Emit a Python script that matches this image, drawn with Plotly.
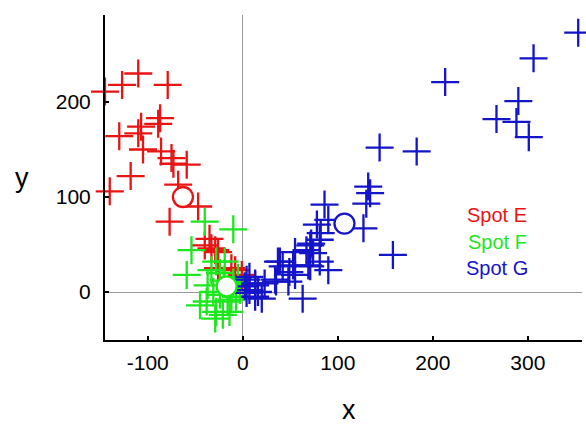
import plotly.graph_objects as go

# Spot E (red)
e_x = [-145, -127, -110, -79, -87, -89, -107, -110, -130, -105, -86, -75, -73, -59,
       -118, -68, -140, -47, -77, -35, -40, -33, -26, -26, -12, -29, -8, -1]
e_y = [211, 218, 230, 218, 183, 177, 174, 167, 164, 150, 148, 141, 135, 134,
       122, 113, 106, 90, 74, 56, 49, 46, 42, 25, 25, 44, 23, 18]

# Spot F (green)
f_x = [-40, -10, -54, -28, -19, -59, -33, -24, -37, -45, -38, -28, -21, -14,
       -29, -7, -3, -16, -24, -10, -5, -12, -20, -31]
f_y = [74, 66, 44, 32, 32, 18, 23, 20, 7, -14, -10, -21, -24, -21,
       -28, -5, 2, -10, -3, 10, 15, -8, 12, 0]

# Spot G (blue)
g_x = [4, 13, 7, 2, 16, 13, 4, 23, 55, 67, 72, 37, 42, 53, 49, 55, 35, 48, 63, 20,
       13, 7, 69, 86, 130, 134, 127, 78, 90, 82, 81, 71, 39, 74, 81, 90, 71, 34,
       132, 158, 213, 306, 353, 290, 267, 288, 301, 183, 144]
g_y = [13, 7, 2, 6, 0, -5, -1, 9, 42, 44, 51, 32, 27, 28, 21, 18, 11, 11, -7, -7,
       9, 16, 28, 92, 93, 104, 67, 71, 76, 62, 55, 49, 32, 41, 32, 23, 27, 13,
       111, 39, 221, 246, 273, 201, 182, 179, 163, 148, 152]

# Spot means (open circles)
mean_x = [-63, -17, 107]
mean_y = [100, 6, 72]

names = ["Spot E", "Spot F", "Spot G"]
colors = ["#e81414", "#1ee61e", "#1414c8"]

tick_x = [-100, 0, 100, 200, 300]
tick_x_text = ["-100", "0", "100", "200", "300"]
tick_y = [0, 100, 200]

W, H = 586, 424
L, R, T, B = 105, 4, 15, 84
pw, ph = W - L - R, H - T - B


def px(xp):
    return (xp - L) / pw


def py(yp):
    return 1 - (yp - T) / ph


def label(xp, yp, text, size, color):
    fig.add_annotation(x=px(xp), y=py(yp), xref="paper", yref="paper",
                       xanchor="center", yanchor="middle",
                       text=text, showarrow=False, font=dict(size=size, color=color))


fig = go.Figure()
for xs, ys, c in zip([e_x, f_x, g_x], [e_y, f_y, g_y], colors):
    fig.add_trace(go.Scatter(
        x=xs, y=ys, mode="markers", cliponaxis=False, showlegend=False,
        marker=dict(symbol="cross-thin-open", size=20, color=c,
                    line=dict(color=c, width=2.3)),
    ))

for mx, my, c in zip(mean_x, mean_y, colors):
    fig.add_trace(go.Scatter(
        x=[mx], y=[my], mode="markers", cliponaxis=False, showlegend=False,
        marker=dict(symbol="circle", size=20, color="white", line=dict(color=c, width=2.3)),
    ))

# Coloured text legend
for i, (n, c) in enumerate(zip(names, colors)):
    label(497, 215 + 26.5 * i, n, 20, c)

# Axis titles
label(349, 410, "x", 27, "black")
label(22, 178, "y", 27, "black")

axis_common = dict(
    showgrid=False, zeroline=True, zerolinecolor="#999999", zerolinewidth=1,
    showline=True, linecolor="black", linewidth=2,
    ticks="inside", ticklen=4, tickwidth=1.5, tickcolor="black",
)

fig.update_layout(
    width=W, height=H,
    margin=dict(l=L, r=R, t=T, b=B),
    paper_bgcolor="white", plot_bgcolor="white",
    font=dict(family="Liberation Sans, Arial, sans-serif", color="black", size=21),
    xaxis=dict(range=[-145, 357], tickvals=tick_x, ticktext=tick_x_text,
               ticklabelstandoff=3, **axis_common),
    yaxis=dict(range=[-50.5, 291.6], tickvals=tick_y,
               ticklabelstandoff=8, **axis_common),
)

fig.write_html("out.html")
